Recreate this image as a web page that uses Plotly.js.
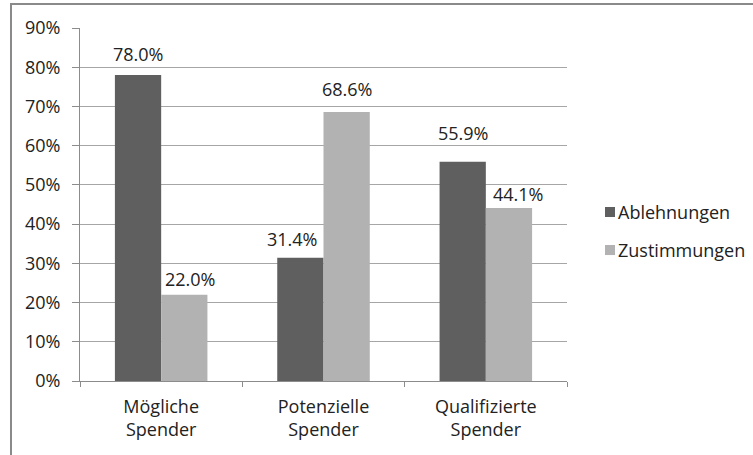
<!DOCTYPE html>
<html>
<head>
<meta charset="utf-8">
<script src="https://cdn.plot.ly/plotly-3.0.1.min.js"></script>
<style>html,body{margin:0;padding:0;background:#fff;}#chart{width:753px;height:455px;}</style>
</head>
<body>
<div id="chart"></div>
<script>
// Spender categories and shares (percent)
const categories = ["Mögliche<br>Spender", "Potenzielle<br>Spender", "Qualifizierte<br>Spender"];
const ablehnungen = [78.0, 31.4, 55.9];
const zustimmungen = [22.0, 68.6, 44.1];
const yTicks = [0, 10, 20, 30, 40, 50, 60, 70, 80, 90];
const yTickLabels = yTicks.map(v => v + "%");

// hand-placed value labels: pixel nudges [dx, dy] per bar
const ablehnungenLabelNudge = [[0, 7], [-9, 5], [0, 15]];
const zustimmungenLabelNudge = [[6, 2], [0, 9], [9, 0]];

const font = {family: "'Open Sans', sans-serif", size: 18, color: "#222"};

const series = [
  {name: "Ablehnungen", values: ablehnungen, color: "#5f5f5f", nudge: ablehnungenLabelNudge, side: -1},
  {name: "Zustimmungen", values: zustimmungen, color: "#b2b2b2", nudge: zustimmungenLabelNudge, side: 1}
];

const traces = series.map(s => ({
  type: "bar", name: s.name, x: categories, y: s.values,
  marker: {color: s.color}, hoverinfo: "none"
}));

const barHalf = 23; // half of one bar's pixel width inside a group
const annotations = [];
series.forEach(s => {
  s.values.forEach((v, j) => {
    annotations.push({
      xref: "x", yref: "y", x: categories[j], y: v,
      xanchor: "center", yanchor: "bottom", showarrow: false,
      xshift: s.side * barHalf + s.nudge[j][0], yshift: s.nudge[j][1],
      text: v.toFixed(1) + "%", font: font
    });
  });
});

// Legend drawn at the right: a small swatch plus the series name
const legendRows = [0.4788, 0.371];
const shapes = [{
  type: "rect", xref: "paper", yref: "paper",
  x0: -0.1417, x1: 1.5, y0: -0.5, y1: 1.068,
  line: {color: "#8a8a8a", width: 2}, fillcolor: "rgba(0,0,0,0)", layer: "below"
}];
series.forEach((s, i) => {
  const yc = legendRows[i];
  shapes.push({
    type: "rect", xref: "paper", yref: "paper",
    x0: 1.078, x1: 1.0986, y0: yc - 0.0142, y1: yc + 0.0142,
    line: {width: 0}, fillcolor: s.color
  });
  annotations.push({
    xref: "paper", yref: "paper", x: 1.1, y: yc,
    xanchor: "left", yanchor: "middle", showarrow: false,
    text: s.name, font: font
  });
});

const layout = {
  width: 753, height: 455,
  margin: {l: 80, r: 186, t: 28, b: 74},
  paper_bgcolor: "#fff", plot_bgcolor: "#fff",
  font: font,
  barmode: "group", bargap: 0.43, bargroupgap: 0,
  showlegend: false,
  xaxis: {
    showgrid: false, showline: true, linecolor: "#8c8c8c", linewidth: 1,
    ticks: "outside", tickson: "boundaries", ticklen: 5, tickcolor: "#8c8c8c",
    tickfont: font, zeroline: false, ticklabelstandoff: 9
  },
  yaxis: {
    range: [0, 90], tickvals: yTicks, ticktext: yTickLabels,
    showgrid: true, gridcolor: "#a6a6a6", gridwidth: 1,
    showline: true, linecolor: "#8c8c8c", linewidth: 1,
    ticks: "outside", ticklen: 7, tickcolor: "#8c8c8c",
    tickfont: font, zeroline: false, fixedrange: true, ticklabelstandoff: 8
  },
  shapes: shapes,
  annotations: annotations
};

Plotly.newPlot("chart", traces, layout, {displayModeBar: false, staticPlot: true});
</script>
</body>
</html>
